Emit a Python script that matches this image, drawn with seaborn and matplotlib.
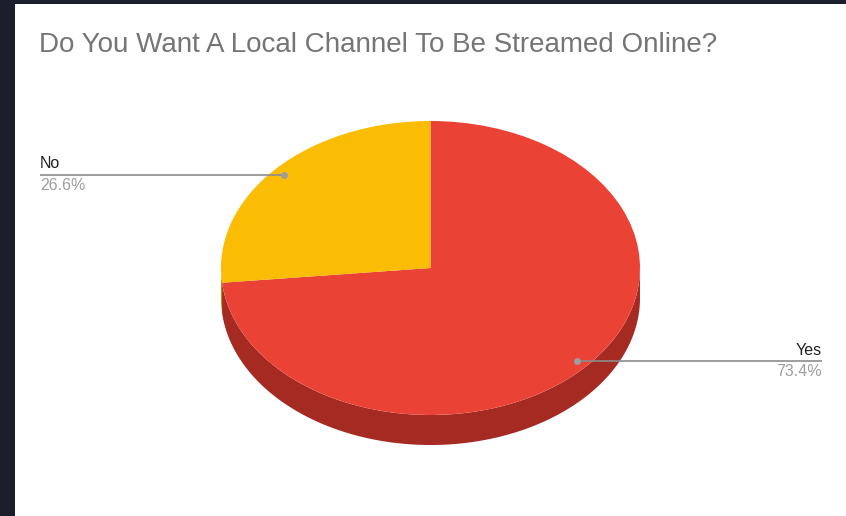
import numpy as np
import matplotlib
matplotlib.use("Agg")
import matplotlib.pyplot as plt
from matplotlib.patches import Rectangle
import seaborn as sns

# Survey answers
labels = ["Yes", "No"]
values = [73.4, 26.6]
top_colors = ["#ea4335", "#fbbc04"]
side_colors = ["#a52a21", "#b58703"]
title = "Do You Want A Local Channel To Be Streamed Online?"

sns.set_theme(style="white")
plt.rcParams["font.family"] = ["Liberation Sans", "DejaVu Sans"]

W, H = 846, 516
fig = plt.figure(figsize=(W / 100, H / 100), dpi=100, facecolor="#1b1f2b")
# white chart card inside the dark frame
fig.patches.append(Rectangle((15 / W, 0), 1 - 15 / W, 1 - 4 / H,
                             transform=fig.transFigure, facecolor="white",
                             edgecolor="none", zorder=-5))

# Pie layout in pixels: ellipse centre, radii and rim depth
cx, cy, rx, ry, depth_px = 430.5, 268.0, 209.5, 147.0, 30.0
depth = depth_px / ry

ax = fig.add_axes([0, 0, 1, 1])
ax.set_zorder(2)
ax.set_facecolor("none")
ax.pie(values, colors=top_colors, startangle=90, counterclock=False,
       radius=1, center=(0, 0), wedgeprops=dict(linewidth=0, zorder=2))
ax.set_aspect("auto")
ax.set_xlim((0 - cx) / rx, (W - cx) / rx)
ax.set_ylim((cy - H) / ry, cy / ry)
ax.axis("off")

# Rim of the tilted pie: only the front (lower) half shows
fracs = np.array(values) / np.sum(values)
edges = 90 - 360 * np.concatenate([[0], np.cumsum(fracs)])
for i in range(len(values)):
    hi, lo = edges[i], edges[i + 1]
    seg_lo, seg_hi = max(lo, -180), min(hi, 0)
    if seg_hi <= seg_lo:
        continue
    phi = np.radians(np.linspace(seg_lo, seg_hi, 300))
    xs = np.concatenate([np.cos(phi), np.cos(phi[::-1])])
    ys = np.concatenate([np.sin(phi), np.sin(phi[::-1]) - depth])
    ax.fill(xs, ys, color=side_colors[i], linewidth=0, zorder=1)

# Leader lines and labels
left_x = (40 - cx) / rx
right_x = (822 - cx) / rx
mids = np.radians((edges[:-1] + edges[1:]) / 2)
for lab, val, m in zip(labels, values, mids):
    mx, my = 0.945 * np.cos(m), 0.945 * np.sin(m)
    if mx < 0:
        ex, ha = left_x, "left"
    else:
        ex, ha = right_x, "right"
    ax.plot([mx, ex], [my, my], color="#8c8c8c", lw=1.2, zorder=3,
            solid_capstyle="butt")
    ax.plot([mx], [my], "o", color="#9e9e9e", ms=5, mew=0, zorder=4)
    ax.annotate(lab, (ex, my), xytext=(0, 2.6), textcoords="offset points",
                ha=ha, va="bottom", fontsize=11.5, color="#222222")
    ax.annotate(f"{val:.1f}%", (ex, my), xytext=(0, -2.0),
                textcoords="offset points", ha=ha, va="top",
                fontsize=11.5, color="#9e9e9e")

fig.text(39 / W, 1 - 52 / H, title, ha="left", va="baseline",
         fontsize=20.0, color="#757575")

fig.savefig("out.png", dpi=100, facecolor=fig.get_facecolor())
